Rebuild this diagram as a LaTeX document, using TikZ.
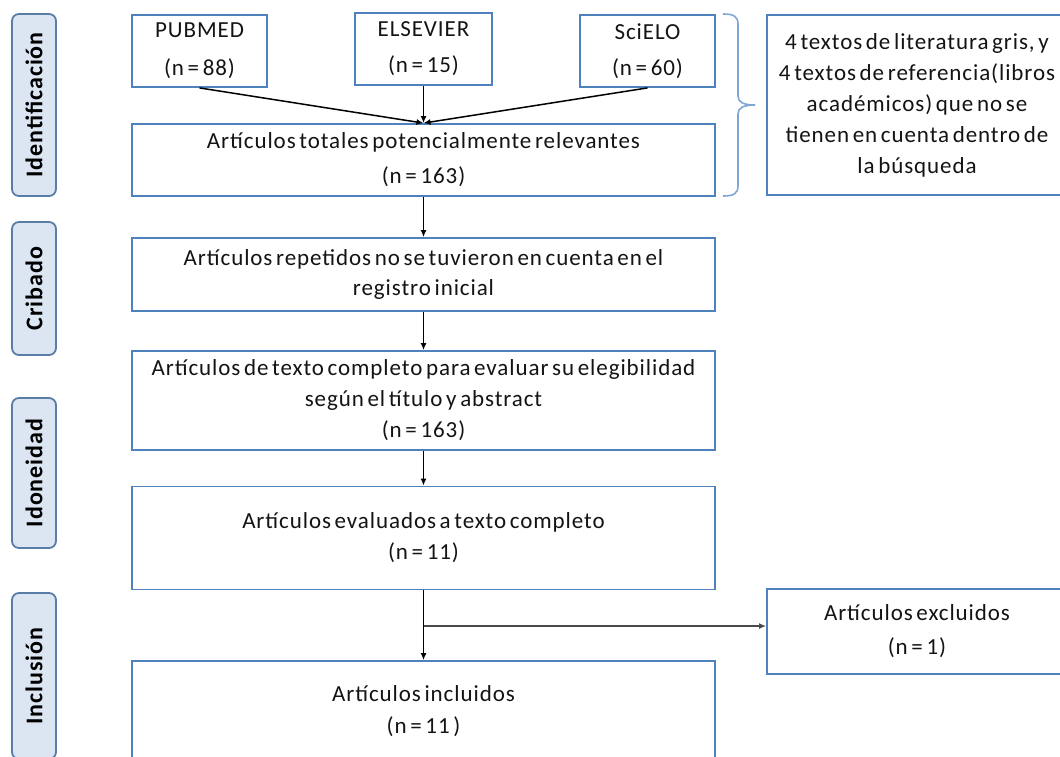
\documentclass[tikz,border=0pt]{standalone}
\usepackage{fontspec}
\setmainfont{Carlito}[LetterSpace=4.0,WordSpace=0.6]
\usetikzlibrary{arrows.meta,calc}
\definecolor{boxblue}{HTML}{4F81BD}
\definecolor{lblfill}{HTML}{DCE6F2}
\definecolor{lbldraw}{HTML}{5A7DA8}
\definecolor{bracec}{HTML}{7FA7D6}
\definecolor{txt}{HTML}{141414}
\definecolor{hline}{HTML}{4A4A4A}
\begin{document}
\begin{tikzpicture}[x=1pt,y=-1pt,
  box/.style={draw=boxblue, line width=1.8pt, align=center, inner sep=0pt, text=txt,
              font=\fontsize{23}{31}\selectfont},
  lbl/.style={draw=lbldraw, fill=lblfill, line width=1.8pt, rounded corners=7pt,
              minimum height=44pt, inner sep=0pt, rotate=90, text=black,
              font=\bfseries\fontsize{24}{24}\selectfont},
  arr/.style={-{Latex[length=7pt,width=6pt]}, line width=1.5pt, black},
  garr/.style={-{Latex[length=7pt,width=6pt,fill=black]}, line width=2.2pt, hline}]
\useasboundingbox (0,0) rectangle (1060,756);
\fill[white] (0,0) rectangle (1060,756);
\clip (0,0) rectangle (1060,756);

% side labels
\node[lbl, minimum width=182pt] (lid) at (34,105) {Identificación};
\node[lbl, minimum width=133pt] (lcr) at (34,288.5) {Cribado};
\node[lbl, minimum width=150pt] (lido) at (34,473) {Idoneidad};
\node[lbl, minimum width=166pt] (linc) at (34,676) {Inclusión};

% top sources
\node[box, minimum width=135pt, minimum height=72pt, font=\fontsize{23}{38}\selectfont] (pubmed) at (199.5,51) {PUBMED\\(n = 88)};
\node[box, minimum width=137pt, minimum height=72pt, font=\fontsize{23}{36}\selectfont] (elsevier) at (423.5,49) {ELSEVIER\\(n = 15)};
\node[box, minimum width=135pt, minimum height=72pt, font=\fontsize{23}{36}\selectfont] (scielo) at (647.5,51) {SciELO\\(n = 60)};

% main column
\node[box, minimum width=583pt, minimum height=72pt, font=\fontsize{23}{35}\selectfont] (total) at (423.5,160) {Artículos totales potencialmente relevantes\\(n = 163)};
\node[box, minimum width=583pt, minimum height=73pt, font=\fontsize{23}{30}\selectfont] (cribado) at (423.5,274.5) {Artículos repetidos no se tuvieron en cuenta en el\\registro inicial};
\node[box, minimum width=583pt, minimum height=99pt, font=\fontsize{23}{31}\selectfont] (elig) at (423.5,400.5) {Artículos de texto completo para evaluar su elegibilidad\\según el título y abstract\\(n = 163)};
\node[box, minimum width=583pt, minimum height=103pt, font=\fontsize{23}{31}\selectfont] (eval) at (423.5,538) {Artículos evaluados a texto completo\\(n = 11)};
\node[box, minimum width=583pt, minimum height=100pt, font=\fontsize{23}{32}\selectfont] (incl) at (423.5,711) {Artículos incluidos\\(n = 11 )};

% right side
\node[box, minimum width=300pt, minimum height=180pt, font=\fontsize{23}{31}\selectfont] (nota) at (917,105) {4 textos de literatura gris, y\\4 textos de referencia(libros\\académicos) que no se\\tienen en cuenta dentro de\\la búsqueda};
\node[box, minimum width=300pt, minimum height=85pt, font=\fontsize{23}{34}\selectfont] (excl) at (917,631.5) {Artículos excluidos\\(n = 1)};

% brace
\draw[bracec, line width=1.6pt] (723,14) .. controls (733,14) and (738,16) .. (738,24)
  -- (738,96) .. controls (738,102) and (743,105) .. (755,105)
  .. controls (743,105) and (738,108) .. (738,114)
  -- (738,186) .. controls (738,194) and (733,196) .. (723,196);

% connectors
\draw[arr] (pubmed.south) -- (total.north);
\draw[arr] (elsevier.south) -- (total.north);
\draw[arr] (scielo.south) -- (total.north);
\draw[arr] (total.south) -- (cribado.north);
\draw[arr] (cribado.south) -- (elig.north);
\draw[arr] (elig.south) -- (eval.north);
\draw[arr] (eval.south) -- (incl.north);
\coordinate (br) at (423.5,626);
\draw[garr] (br) -- (br -| excl.west);
\end{tikzpicture}
\end{document}
